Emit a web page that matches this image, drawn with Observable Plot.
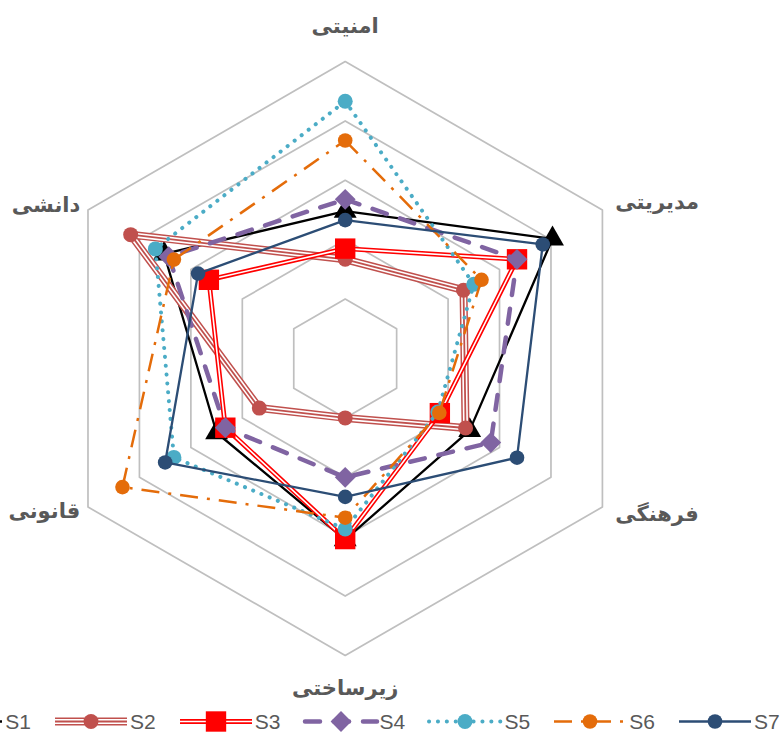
<!DOCTYPE html>
<html><head><meta charset="utf-8">
<script src="https://cdn.jsdelivr.net/npm/d3@7"></script>
<script src="https://cdn.jsdelivr.net/npm/@observablehq/plot@0.6"></script>
<style>
body{margin:0;background:#fff;}
#chart{position:relative;width:783px;height:737px;overflow:hidden;background:#fff;}
#legend{position:relative;width:783px;height:31px;font-family:"Liberation Sans",Arial,sans-serif;font-size:21px;color:#595959;}
.item{position:absolute;top:0;height:31px;display:flex;align-items:center;white-space:nowrap;}
.item span{margin-left:3px;}
</style></head><body>
<div id="chart"></div>
<script>
// axis categories (clockwise from top)
const axes = ["امنیتی", "مدیریتی", "فرهنگی", "زیرساختی", "قانونی", "دانشی"];
const seriesNames = ["S1", "S2", "S3", "S4", "S5", "S6", "S7"];
const s1 = [2.48, 4.03, 2.42, 3.05, 2.50, 3.52];
const s2 = [1.67, 2.30, 2.34, 1.00, 1.67, 4.17];
const s3 = [1.85, 3.34, 1.84, 3.04, 2.33, 2.65];
const s4 = [2.68, 3.34, 2.83, 2.00, 2.33, 3.43];
const s5 = [4.33, 2.50, 1.80, 2.87, 3.33, 3.69];
const s6 = [3.67, 2.65, 1.83, 2.68, 4.33, 3.33];
const s7 = [2.33, 3.84, 3.34, 2.33, 3.50, 2.86];
const ringLevels = [1, 2, 3, 4, 5];

const seriesValues = [s1, s2, s3, s4, s5, s6, s7];

// styles
const styles = [
  {layers: [{stroke: "#000000", w: 2.3}], symbol: "triangle", r: 8.5, fill: "#000000"},
  {layers: [{stroke: "#C0504D", w: 8}, {stroke: "#ffffff", w: 5}, {stroke: "#C0504D", w: 1.8}], symbol: "circle", r: 7.5, fill: "#C0504D"},
  {layers: [{stroke: "#FF0000", w: 4.8}, {stroke: "#ffffff", w: 1.6}], symbol: "square", r: 11.5, fill: "#FF0000"},
  {layers: [{stroke: "#8064A2", w: 4.5, dash: "15 14", cap: "round"}], symbol: "square", rotate: 45, r: 8.3, fill: "#8064A2"},
  {layers: [{stroke: "#4BACC6", w: 4, dash: "0.1 8.8", cap: "round"}], symbol: "circle", r: 7.5, fill: "#4BACC6"},
  {layers: [{stroke: "#E46C0A", w: 2.5, dash: "18 9 3 9"}], symbol: "circle", r: 7.3, fill: "#E46C0A"},
  {layers: [{stroke: "#2C4D75", w: 2.3}], symbol: "circle", r: 7.3, fill: "#2C4D75"}
];

const ang = i => i * Math.PI / 3;
const X = d => d.value * Math.sin(ang(d.i));
const Y = d => d.value * Math.cos(ang(d.i));

const ringRows = ringLevels.flatMap(v => axes.map((a, i) => ({ring: v, i, value: v})));

const marks = [
  Plot.line(ringRows, {x: X, y: Y, z: "ring", curve: "linear-closed", stroke: "#BFBFBF", strokeWidth: 1.7})
];

seriesNames.forEach((name, k) => {
  const rows = seriesValues[k].map((value, i) => ({series: name, i, value}));
  const st = styles[k];
  st.layers.forEach(L => {
    marks.push(Plot.line(rows, {x: X, y: Y, curve: "linear-closed", stroke: L.stroke, strokeWidth: L.w,
      strokeDasharray: L.dash, strokeLinecap: L.cap || "butt", strokeLinejoin: "miter"}));
  });
  marks.push(Plot.dot(rows, {x: X, y: Y, symbol: st.symbol, r: st.r, fill: st.fill, stroke: "none", rotate: st.rotate || 0}));
});

// axis labels
const labelR = [5.59, 5.25, 5.25, 5.55, 5.15, 5.15];
const labelRows = axes.map((name, i) => ({name, i, value: labelR[i]}));
const labelStyle = {x: X, y: Y, text: "name", fontSize: 21, fontWeight: "bold", fill: "#595959", fontFamily: "DejaVu Sans, sans-serif"};
marks.push(Plot.text(labelRows.filter(d => d.i === 0 || d.i === 3), {...labelStyle, textAnchor: "middle"}));
marks.push(Plot.text(labelRows.filter(d => d.i === 1 || d.i === 2), {...labelStyle, textAnchor: "start"}));
marks.push(Plot.text(labelRows.filter(d => d.i === 4 || d.i === 5), {...labelStyle, textAnchor: "end"}));

const W = 783, H = 706, cx = 344.7, cy = 358, unit = 59.4;
const chart = Plot.plot({
  width: W, height: H, margin: 0,
  x: {domain: [-cx / unit, (W - cx) / unit], range: [0, W], axis: null},
  y: {domain: [-(H - cy) / unit, cy / unit], range: [H, 0], axis: null},
  style: {background: "white", overflow: "visible"},
  marks
});
const host = document.getElementById("chart");
host.appendChild(chart);

// legend
const legend = document.createElement("div");
legend.id = "legend";
const ns = "http://www.w3.org/2000/svg";
seriesNames.forEach((name, k) => {
  const st = styles[k];
  const item = document.createElement("div");
  item.className = "item";
  item.style.left = (-69.8 + k * 124.8) + "px";
  let svg = `<svg xmlns="${ns}" width="72" height="31" style="overflow:visible">`;
  st.layers.forEach(L => {
    svg += `<line x1="0" y1="15.5" x2="72" y2="15.5" stroke="${L.stroke}" stroke-width="${L.w}" ${L.dash ? `stroke-dasharray="${L.dash}"` : ""} stroke-linecap="${L.cap || "butt"}"/>`;
  });
  const sym = d3.symbol(d3["symbol" + st.symbol[0].toUpperCase() + st.symbol.slice(1)], st.r * st.r * Math.PI)();
  svg += `<path d="${sym}" fill="${st.fill}" transform="translate(36,15.5) rotate(${st.rotate || 0})"/>`;
  svg += `</svg>`;
  item.innerHTML = svg + `<span>${name}</span>`;
  legend.appendChild(item);
});
host.appendChild(legend);
</script>
</body></html>
